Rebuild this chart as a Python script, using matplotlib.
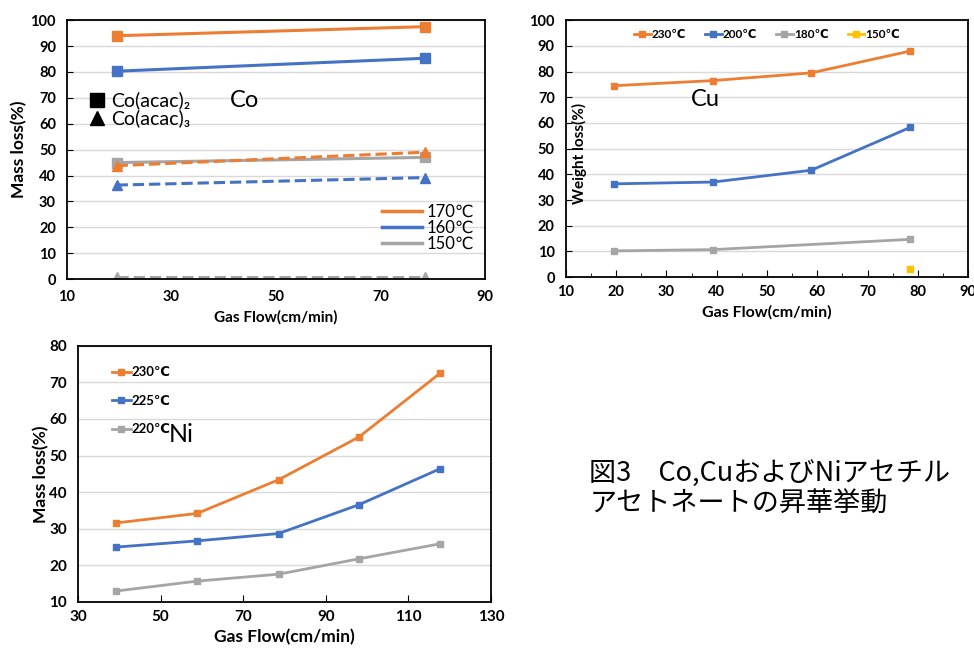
import matplotlib
matplotlib.use("Agg")
import matplotlib.pyplot as plt
from matplotlib.lines import Line2D
from matplotlib.ticker import MultipleLocator

plt.rcParams['font.family'] = ['Lato', 'DejaVu Sans', 'Noto Sans CJK JP']

ORANGE = "#ED7D31"
BLUE = "#4472C4"
GRAY = "#A5A5A5"
YELLOW = "#FFC000"

# Co panel
co_x = [19.5, 78.5]
co2_170 = [94.0, 97.5]
co2_160 = [80.3, 85.3]
co2_150 = [45.0, 47.0]
co3_170 = [43.8, 49.0]
co3_160 = [36.3, 39.2]
co3_150 = [0.8, 0.8]
co_temps = ["170℃", "160℃", "150℃"]
co_xticks = [10, 30, 50, 70, 90]

# Cu panel
cu_x = [19.5, 39.3, 58.8, 78.5]
cu_230 = [74.5, 76.5, 79.5, 88.0]
cu_200 = [36.3, 37.0, 41.6, 58.3]
cu_180_x = [19.5, 39.3, 78.5]
cu_180 = [10.2, 10.7, 14.7]
cu_150_x = [78.5]
cu_150 = [3.3]
cu_temps = ["230℃", "200℃", "180℃", "150℃"]

# Ni panel
ni_x = [39.3, 58.9, 78.6, 98.1, 117.7]
ni_230 = [31.6, 34.2, 43.4, 55.1, 72.5]
ni_225 = [25.0, 26.7, 28.7, 36.6, 46.4]
ni_220 = [13.0, 15.7, 17.6, 21.8, 25.9]
ni_temps = ["230℃", "225℃", "220℃"]
ni_xticks = [30, 50, 70, 90, 110, 130]

caption = "図3\u3000Co,CuおよびNiアセチル\nアセトネートの昇華挙動"


def style_axes(ax, size=10.5):
    for s in ax.spines.values():
        s.set_linewidth(1.3)
        s.set_color("black")
    ax.grid(axis="y", color="#d9d9d9", linewidth=1)
    ax.set_axisbelow(True)
    for lab in ax.get_xticklabels() + ax.get_yticklabels():
        lab.set_fontweight("bold")
        lab.set_fontsize(size)


fig = plt.figure(figsize=(9.74, 6.52), dpi=100)

# ---- Co ----
ax1 = fig.add_axes([0.0688, 0.572, 0.429, 0.397])
ax1.plot(co_x, co2_170, color=ORANGE, lw=2.2, marker="s", ms=7)
ax1.plot(co_x, co2_160, color=BLUE, lw=2.2, marker="s", ms=7)
ax1.plot(co_x, co2_150, color=GRAY, lw=2.2, marker="s", ms=7)
ax1.plot(co_x, co3_170, color=ORANGE, lw=2.2, ls="--", marker="^", ms=7)
ax1.plot(co_x, co3_160, color=BLUE, lw=2.2, ls="--", marker="^", ms=7)
ax1.plot(co_x, co3_150, color=GRAY, lw=2.2, ls="--", marker="^", ms=7)
ax1.set_xlim(10, 90)
ax1.set_ylim(0, 100)
ax1.set_xticks(co_xticks)
ax1.yaxis.set_major_locator(MultipleLocator(10))
ax1.tick_params(axis="x", direction="in", length=0, pad=8)
ax1.tick_params(axis="y", direction="in", length=4, pad=8)
ax1.set_ylabel("Mass loss(%)", fontsize=12.5, fontweight="bold", labelpad=2)
ax1.set_xlabel("Gas Flow(cm/min)", fontsize=11, fontweight="bold", labelpad=4)
style_axes(ax1)
h_temp = [Line2D([], [], color=c, lw=2.5) for c in (ORANGE, BLUE, GRAY)]
leg1 = ax1.legend(h_temp, co_temps, loc="lower right", bbox_to_anchor=(0.99, 0.08),
                  frameon=False, fontsize=12, handlelength=2.4, labelspacing=0.0,
                  handletextpad=0.3, borderaxespad=0)
ax1.add_artist(leg1)
h_shape = [Line2D([], [], color="black", ls="none", marker="s", ms=10),
           Line2D([], [], color="black", ls="none", marker="^", ms=10)]
ax1.legend(h_shape, ["Co(acac)₂", "Co(acac)₃"], loc="upper left",
           bbox_to_anchor=(0.035, 0.755), frameon=False, fontsize=14,
           handlelength=0.8, handletextpad=0.3, labelspacing=0.02, borderaxespad=0)
ax1.text(0.39, 0.69, "Co", transform=ax1.transAxes, fontsize=17, va="center")

# ---- Cu ----
ax2 = fig.add_axes([0.581, 0.575, 0.413, 0.394])
ax2.plot(cu_x, cu_230, color=ORANGE, lw=2, marker="s", ms=4.5, label=cu_temps[0])
ax2.plot(cu_x, cu_200, color=BLUE, lw=2, marker="s", ms=4.5, label=cu_temps[1])
ax2.plot(cu_180_x, cu_180, color=GRAY, lw=2, marker="s", ms=4.5, label=cu_temps[2])
ax2.plot(cu_150_x, cu_150, color=YELLOW, lw=2, marker="s", ms=4.5, label=cu_temps[3])
ax2.set_xlim(10, 90)
ax2.set_ylim(0, 100)
ax2.xaxis.set_major_locator(MultipleLocator(10))
ax2.xaxis.set_minor_locator(MultipleLocator(5))
ax2.yaxis.set_major_locator(MultipleLocator(10))
ax2.tick_params(axis="x", which="major", direction="in", length=5, pad=6)
ax2.tick_params(axis="x", which="minor", direction="in", length=3)
ax2.tick_params(axis="y", direction="in", length=4, pad=8)
ax2.set_xlabel("Gas Flow(cm/min)", fontsize=11.5, fontweight="bold", labelpad=4)
ax2.set_ylabel("Weight loss(%)", fontsize=11, fontweight="bold")
ax2.yaxis.set_label_coords(0.053, 0.48)
style_axes(ax2)
ax2.legend(loc="upper center", bbox_to_anchor=(0.5, 0.985), ncol=4, frameon=False,
           prop={"weight": "bold", "size": 8.5}, handlelength=1.4, handletextpad=0.1,
           columnspacing=1.6, borderaxespad=0)
ax2.text(0.31, 0.69, "Cu", transform=ax2.transAxes, fontsize=17, va="center")

# ---- Ni ----
ax3 = fig.add_axes([0.080, 0.0767, 0.424, 0.393])
ax3.plot(ni_x, ni_230, color=ORANGE, lw=2, marker="s", ms=5, label=ni_temps[0])
ax3.plot(ni_x, ni_225, color=BLUE, lw=2, marker="s", ms=5, label=ni_temps[1])
ax3.plot(ni_x, ni_220, color=GRAY, lw=2, marker="s", ms=5, label=ni_temps[2])
ax3.set_xlim(30, 130)
ax3.set_ylim(10, 80)
ax3.set_xticks(ni_xticks)
ax3.yaxis.set_major_locator(MultipleLocator(10))
ax3.tick_params(axis="x", which="major", direction="in", length=5, pad=6)
ax3.tick_params(axis="y", length=0, pad=8)
ax3.set_xlabel("Gas Flow(cm/min)", fontsize=12.5, fontweight="bold", labelpad=3)
ax3.set_ylabel("Mass loss(%)", fontsize=12.5, fontweight="bold", labelpad=0)
style_axes(ax3, size=11)
ax3.legend(loc="upper left", bbox_to_anchor=(0.07, 0.94), frameon=False,
           prop={"weight": "bold", "size": 9.5}, handlelength=1.4, handletextpad=0.1,
           labelspacing=1.25, borderaxespad=0)
ax3.text(0.22, 0.655, "Ni", transform=ax3.transAxes, fontsize=18, va="center")

fig.text(0.605, 0.25, caption, fontsize=19.5, family=["Noto Sans CJK JP"],
         linespacing=1.2, va="center", ha="left")

fig.savefig("out.png", dpi=100)
